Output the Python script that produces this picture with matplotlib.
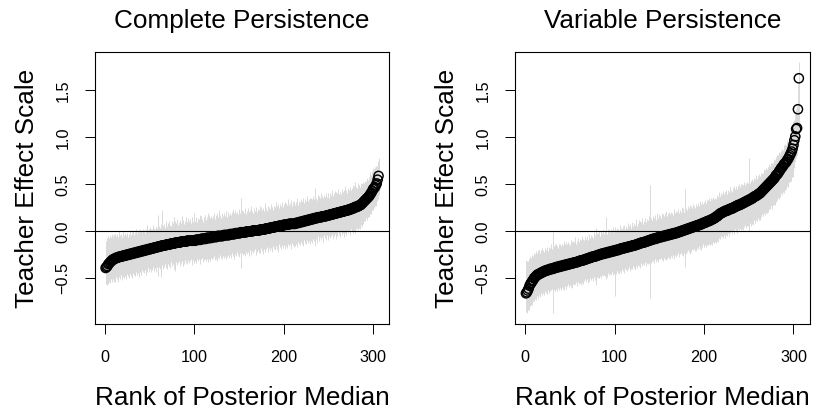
#!/usr/bin/env python3
"""
Caterpillar plots of teacher effects: posterior medians ranked,
with their posterior intervals drawn as light gray vertical lines.
"""

import matplotlib
matplotlib.use('Agg')
import matplotlib.pyplot as plt
import numpy as np

plt.rcParams['font.family'] = ['Liberation Sans', 'DejaVu Sans']

# Values are in hundredths of the teacher effect scale, ordered by rank.
# "up" and "down" are the distances from the median to the interval ends.

# --- Complete Persistence ---
complete_median = [
    -39, -38, -37, -35, -34, -33, -32, -31, -30, -30,
    -29, -29, -28, -28, -28, -27, -27, -27, -27, -26,
    -26, -26, -26, -25, -25, -25, -25, -24, -24, -24,
    -24, -23, -23, -23, -23, -22, -22, -22, -22, -21,
    -21, -21, -21, -20, -20, -20, -20, -19, -19, -19,
    -19, -18, -18, -18, -18, -17, -17, -17, -17, -16,
    -16, -16, -16, -15, -15, -15, -15, -15, -14, -14,
    -14, -14, -14, -13, -13, -13, -13, -13, -12, -12,
    -12, -12, -12, -12, -11, -11, -11, -11, -11, -11,
    -11, -10, -10, -10, -10, -10, -10, -10, -10, -10,
    -10, -9, -9, -9, -9, -9, -9, -8, -8, -8,
    -8, -8, -8, -7, -7, -7, -7, -7, -7, -6,
    -6, -6, -6, -6, -6, -5, -5, -5, -5, -5,
    -5, -5, -4, -4, -4, -4, -4, -4, -4, -3,
    -3, -3, -3, -3, -3, -2, -2, -2, -2, -2,
    -2, -1, -1, -1, -1, -1, -1, -1, 0, 0,
    0, 0, 0, 0, 0, 1, 1, 1, 1, 1,
    1, 1, 1, 2, 2, 2, 2, 2, 2, 3,
    3, 3, 3, 3, 4, 4, 4, 4, 4, 5,
    5, 5, 5, 5, 6, 6, 6, 6, 6, 7,
    7, 7, 7, 7, 7, 8, 8, 8, 8, 8,
    8, 8, 8, 9, 9, 9, 9, 10, 10, 10,
    10, 11, 11, 11, 11, 12, 12, 12, 12, 13,
    13, 13, 13, 14, 14, 14, 14, 15, 15, 15,
    15, 15, 16, 16, 16, 16, 16, 17, 17, 17,
    17, 18, 18, 18, 18, 19, 19, 19, 19, 20,
    20, 20, 20, 21, 21, 21, 21, 22, 22, 22,
    22, 23, 23, 23, 24, 24, 24, 25, 25, 26,
    26, 26, 27, 27, 28, 28, 29, 30, 31, 32,
    33, 34, 35, 36, 37, 38, 40, 41, 43, 45,
    46, 47, 49, 51, 55, 59,
]
complete_up = [
    29, 31, 28, 30, 27, 29, 26, 28, 25, 27,
    24, 26, 23, 25, 22, 27, 23, 24, 21, 25,
    22, 20, 24, 21, 23, 19, 22, 25, 20, 23,
    21, 24, 19, 22, 26, 20, 23, 21, 25, 19,
    22, 20, 24, 21, 18, 23, 27, 20, 22, 19,
    24, 21, 20, 25, 22, 19, 23, 21, 30, 33,
    22, 20, 24, 38, 21, 23, 19, 26, 22, 20,
    23, 25, 21, 19, 24, 22, 28, 20, 23, 21,
    25, 19, 22, 24, 20, 27, 21, 23, 19, 22,
    26, 20, 24, 21, 23, 19, 25, 22, 20, 30,
    21, 24, 19, 23, 22, 26, 20, 24, 21, 18,
    23, 25, 20, 22, 27, 19, 24, 21, 23, 20,
    22, 26, 19, 23, 21, 25, 20, 28, 22, 19,
    24, 21, 23, 20, 26, 22, 19, 25, 21, 23,
    20, 24, 27, 19, 22, 25, 21, 23, 20, 26,
    22, 36, 24, 20, 23, 21, 26, 19, 22, 25,
    21, 23, 20, 27, 22, 19, 24, 21, 25, 20,
    23, 22, 26, 19, 24, 21, 23, 20, 28, 22,
    19, 24, 21, 23, 20, 25, 22, 19, 23, 21,
    26, 20, 22, 24, 19, 23, 21, 25, 20, 22,
    24, 19, 23, 21, 27, 20, 22, 25, 19, 23,
    21, 24, 20, 22, 26, 19, 23, 21, 24, 20,
    22, 25, 19, 23, 21, 26, 20, 22, 24, 19,
    23, 21, 25, 20, 32, 22, 19, 24, 21, 23,
    20, 26, 22, 19, 23, 21, 25, 20, 22, 24,
    19, 23, 21, 26, 20, 22, 24, 19, 23, 21,
    25, 20, 22, 19, 24, 21, 23, 20, 26, 22,
    19, 23, 21, 24, 20, 22, 25, 19, 23, 27,
    21, 20, 24, 22, 19, 23, 21, 20, 22, 19,
    21, 20, 22, 19, 21, 20, 23, 19, 21, 22,
    20, 22, 21, 19, 20, 19,
]
complete_down = [
    17, 19, 18, 21, 20, 22, 19, 23, 21, 24,
    22, 25, 21, 23, 26, 22, 24, 20, 25, 23,
    21, 24, 22, 26, 20, 23, 25, 21, 24, 22,
    26, 21, 23, 25, 20, 24, 22, 27, 21, 23,
    25, 20, 22, 24, 21, 26, 23, 20, 24, 22,
    21, 25, 23, 20, 24, 22, 26, 21, 23, 32,
    22, 24, 33, 21, 25, 23, 20, 24, 22, 26,
    21, 23, 25, 20, 24, 22, 27, 29, 23, 21,
    24, 22, 20, 25, 23, 21, 26, 22, 24, 20,
    23, 25, 21, 24, 22, 20, 26, 23, 21, 24,
    22, 25, 20, 23, 21, 26, 24, 22, 20, 25,
    23, 21, 24, 22, 26, 20, 23, 25, 21, 24,
    22, 20, 25, 23, 21, 27, 22, 24, 20, 23,
    25, 21, 24, 22, 20, 26, 23, 21, 24, 22,
    25, 20, 23, 21, 26, 22, 24, 20, 23, 25,
    21, 38, 22, 24, 20, 23, 25, 21, 24, 22,
    26, 20, 23, 25, 21, 24, 22, 20, 26, 23,
    21, 24, 22, 25, 20, 23, 26, 21, 24, 22,
    20, 25, 23, 21, 24, 22, 26, 20, 23, 25,
    21, 24, 22, 27, 20, 23, 25, 21, 24, 22,
    26, 20, 23, 25, 21, 24, 22, 27, 20, 23,
    25, 21, 24, 22, 26, 20, 23, 25, 21, 24,
    22, 27, 20, 23, 25, 21, 24, 22, 26, 20,
    23, 25, 21, 24, 30, 22, 26, 20, 23, 25,
    21, 24, 22, 27, 20, 23, 25, 21, 24, 26,
    22, 25, 23, 21, 26, 24, 22, 27, 23, 25,
    21, 24, 26, 22, 25, 23, 27, 21, 24, 26,
    22, 25, 23, 27, 21, 24, 26, 22, 25, 28,
    24, 22, 26, 23, 25, 21, 24, 22, 23, 21,
    22, 20, 23, 21, 22, 20, 21, 23, 20, 22,
    21, 20, 22, 19, 21, 20,
]

# --- Variable Persistence ---
variable_median = [
    -66, -65, -63, -61, -58, -56, -55, -53, -52, -50,
    -49, -48, -47, -46, -46, -45, -45, -44, -44, -43,
    -43, -42, -42, -42, -41, -41, -41, -40, -40, -40,
    -40, -39, -39, -39, -38, -38, -38, -38, -37, -37,
    -37, -37, -36, -36, -36, -36, -35, -35, -35, -35,
    -34, -34, -34, -34, -33, -33, -33, -33, -32, -32,
    -32, -31, -31, -31, -31, -30, -30, -30, -29, -29,
    -29, -28, -28, -28, -27, -27, -27, -27, -26, -26,
    -26, -25, -25, -25, -24, -24, -24, -24, -23, -23,
    -23, -23, -22, -22, -22, -22, -21, -21, -21, -21,
    -20, -20, -20, -20, -19, -19, -19, -18, -18, -18,
    -18, -17, -17, -17, -17, -16, -16, -16, -16, -15,
    -15, -15, -15, -14, -14, -14, -13, -13, -13, -12,
    -12, -12, -12, -11, -11, -11, -10, -10, -10, -9,
    -9, -9, -8, -8, -8, -8, -7, -7, -7, -6,
    -6, -6, -6, -5, -5, -5, -5, -4, -4, -4,
    -4, -3, -3, -3, -3, -2, -2, -2, -2, -1,
    -1, -1, 0, 0, 0, 1, 1, 1, 2, 2,
    2, 3, 3, 3, 4, 4, 4, 5, 5, 5,
    6, 6, 6, 7, 7, 7, 8, 8, 9, 9,
    9, 10, 10, 11, 11, 11, 12, 12, 13, 13,
    14, 14, 15, 16, 16, 17, 18, 19, 19, 20,
    20, 21, 21, 22, 22, 22, 23, 23, 24, 24,
    24, 25, 25, 26, 26, 27, 27, 28, 28, 28,
    29, 29, 30, 30, 31, 31, 32, 32, 33, 33,
    34, 34, 35, 35, 36, 37, 37, 38, 38, 39,
    40, 40, 41, 42, 43, 44, 45, 46, 47, 48,
    49, 50, 51, 52, 53, 54, 55, 56, 57, 59,
    60, 61, 62, 64, 65, 67, 68, 69, 71, 72,
    73, 74, 76, 77, 79, 81, 83, 85, 88, 92,
    97, 101, 109, 110, 130, 163,
]
variable_up = [
    35, 33, 31, 32, 29, 30, 27, 28, 26, 27,
    25, 27, 24, 26, 23, 25, 22, 24, 26, 23,
    21, 24, 22, 25, 23, 20, 24, 22, 26, 21,
    39, 23, 25, 21, 24, 22, 20, 25, 23, 21,
    24, 22, 26, 20, 23, 25, 21, 24, 22, 20,
    25, 23, 21, 24, 22, 27, 20, 23, 25, 21,
    24, 22, 20, 26, 23, 21, 25, 22, 24, 20,
    23, 25, 21, 24, 22, 20, 26, 23, 30, 24,
    21, 23, 25, 20, 24, 22, 26, 21, 23, 38,
    22, 20, 25, 23, 21, 24, 22, 26, 20, 23,
    25, 21, 24, 22, 20, 26, 23, 21, 24, 22,
    25, 20, 23, 21, 26, 22, 24, 20, 23, 25,
    21, 24, 22, 27, 20, 23, 25, 21, 24, 22,
    26, 20, 23, 25, 21, 24, 22, 20, 26, 58,
    23, 21, 24, 22, 25, 20, 23, 26, 21, 24,
    22, 20, 25, 23, 21, 24, 22, 26, 20, 23,
    25, 21, 24, 22, 20, 26, 23, 21, 24, 22,
    25, 20, 23, 21, 26, 22, 24, 20, 43, 23,
    21, 24, 22, 25, 20, 23, 21, 24, 22, 20,
    23, 21, 24, 20, 22, 25, 21, 23, 20, 22,
    24, 20, 23, 21, 22, 25, 20, 23, 21, 24,
    20, 22, 19, 23, 21, 20, 24, 19, 22, 20,
    23, 19, 21, 20, 22, 18, 21, 19, 23, 20,
    18, 21, 20, 22, 19, 21, 18, 20, 22, 19,
    21, 18, 20, 19, 22, 18, 20, 21, 19, 45,
    18, 20, 19, 21, 18, 20, 19, 22, 18, 20,
    19, 21, 18, 20, 19, 18, 21, 19, 20, 18,
    20, 19, 21, 18, 20, 19, 18, 21, 19, 20,
    18, 20, 19, 21, 18, 19, 20, 18, 21, 19,
    20, 18, 21, 19, 20, 22, 21, 23, 24, 26,
    22, 24, 21, 25, 27, 17,
]
variable_down = [
    20, 22, 21, 23, 22, 24, 23, 25, 22, 24,
    23, 25, 22, 24, 26, 23, 25, 22, 24, 23,
    25, 22, 24, 23, 26, 22, 25, 24, 23, 21,
    47, 24, 22, 25, 23, 26, 22, 24, 23, 25,
    22, 24, 23, 26, 22, 25, 23, 21, 24, 22,
    25, 23, 26, 22, 24, 23, 21, 25, 22, 24,
    23, 26, 22, 24, 25, 23, 21, 24, 22, 26,
    23, 25, 22, 24, 23, 26, 22, 25, 31, 23,
    24, 22, 25, 23, 26, 22, 24, 23, 25, 28,
    23, 26, 22, 24, 23, 25, 22, 26, 24, 48,
    23, 25, 22, 24, 26, 23, 25, 22, 24, 23,
    26, 22, 24, 25, 23, 22, 26, 24, 23, 25,
    22, 24, 26, 23, 25, 22, 24, 23, 26, 22,
    25, 23, 24, 22, 26, 23, 25, 24, 22, 62,
    25, 23, 24, 26, 22, 25, 23, 24, 26, 23,
    24, 22, 25, 27, 23, 24, 26, 22, 25, 23,
    24, 26, 23, 25, 22, 24, 27, 23, 25, 24,
    22, 26, 24, 23, 25, 27, 23, 24, 40, 26,
    24, 23, 25, 27, 24, 26, 23, 25, 24, 26,
    27, 24, 25, 23, 26, 24, 28, 25, 23, 26,
    24, 27, 25, 23, 26, 24, 27, 25, 28, 24,
    26, 25, 27, 24, 26, 28, 25, 27, 24, 26,
    27, 25, 28, 24, 26, 27, 25, 28, 26, 24,
    27, 25, 28, 26, 24, 27, 29, 25, 27, 26,
    28, 25, 27, 29, 26, 24, 28, 26, 27, 33,
    25, 28, 26, 27, 29, 25, 28, 26, 27, 25,
    28, 26, 29, 27, 25, 28, 26, 29, 27, 28,
    26, 29, 27, 28, 26, 30, 27, 28, 29, 27,
    29, 28, 27, 30, 28, 26, 29, 27, 30, 28,
    27, 29, 28, 30, 26, 28, 29, 27, 30, 28,
    30, 27, 31, 29, 40, 57,
]

x_ticks = [0, 100, 200, 300]
y_ticks = [-0.5, 0.0, 0.5, 1.0, 1.5]
y_tick_labels = ['-0.5', '0.0', '0.5', '1.0', '1.5']


def draw_panel(ax, title, median, up, down):
    """One caterpillar panel: gray intervals, open circles, zero line."""
    med = np.array(median) / 100.0
    upper = med + np.array(up) / 100.0
    lower = med - np.array(down) / 100.0
    rank = np.arange(1, len(med) + 1)

    ax.vlines(rank, lower, upper, color='#dadada', linewidth=0.7, zorder=1)
    ax.axhline(0, color='black', linewidth=0.8, zorder=2)
    ax.scatter(rank, med, s=44, facecolors='none', edgecolors='black',
               linewidths=1.05, zorder=3)

    ax.set_xlim(-11.2, 318.2)
    ax.set_ylim(-0.99, 1.91)
    ax.set_xticks(x_ticks)
    ax.set_yticks(y_ticks)
    ax.set_yticklabels([s.replace('-', '\u2212') for s in y_tick_labels],
                       rotation=90, va='center')
    ax.tick_params(direction='out', length=7.5, width=0.7, labelsize=11.7)
    ax.tick_params(axis='x', pad=11)
    ax.tick_params(axis='y', pad=10)
    for spine in ax.spines.values():
        spine.set_linewidth(0.8)

    ax.set_title(title, fontsize=18.8, pad=17)
    ax.set_xlabel('Rank of Posterior Median', fontsize=18.8, labelpad=15)
    ax.set_ylabel('Teacher Effect Scale', fontsize=18.8, labelpad=12)


def main():
    fig = plt.figure(figsize=(8.13, 4.12), dpi=100)
    ax1 = fig.add_axes([0.1165, 0.2129, 0.3625, 0.6609])
    ax2 = fig.add_axes([0.6335, 0.2129, 0.3625, 0.6609])

    draw_panel(ax1, 'Complete Persistence', complete_median, complete_up, complete_down)
    draw_panel(ax2, 'Variable Persistence', variable_median, variable_up, variable_down)

    fig.savefig('out.png', dpi=100)


if __name__ == '__main__':
    main()
